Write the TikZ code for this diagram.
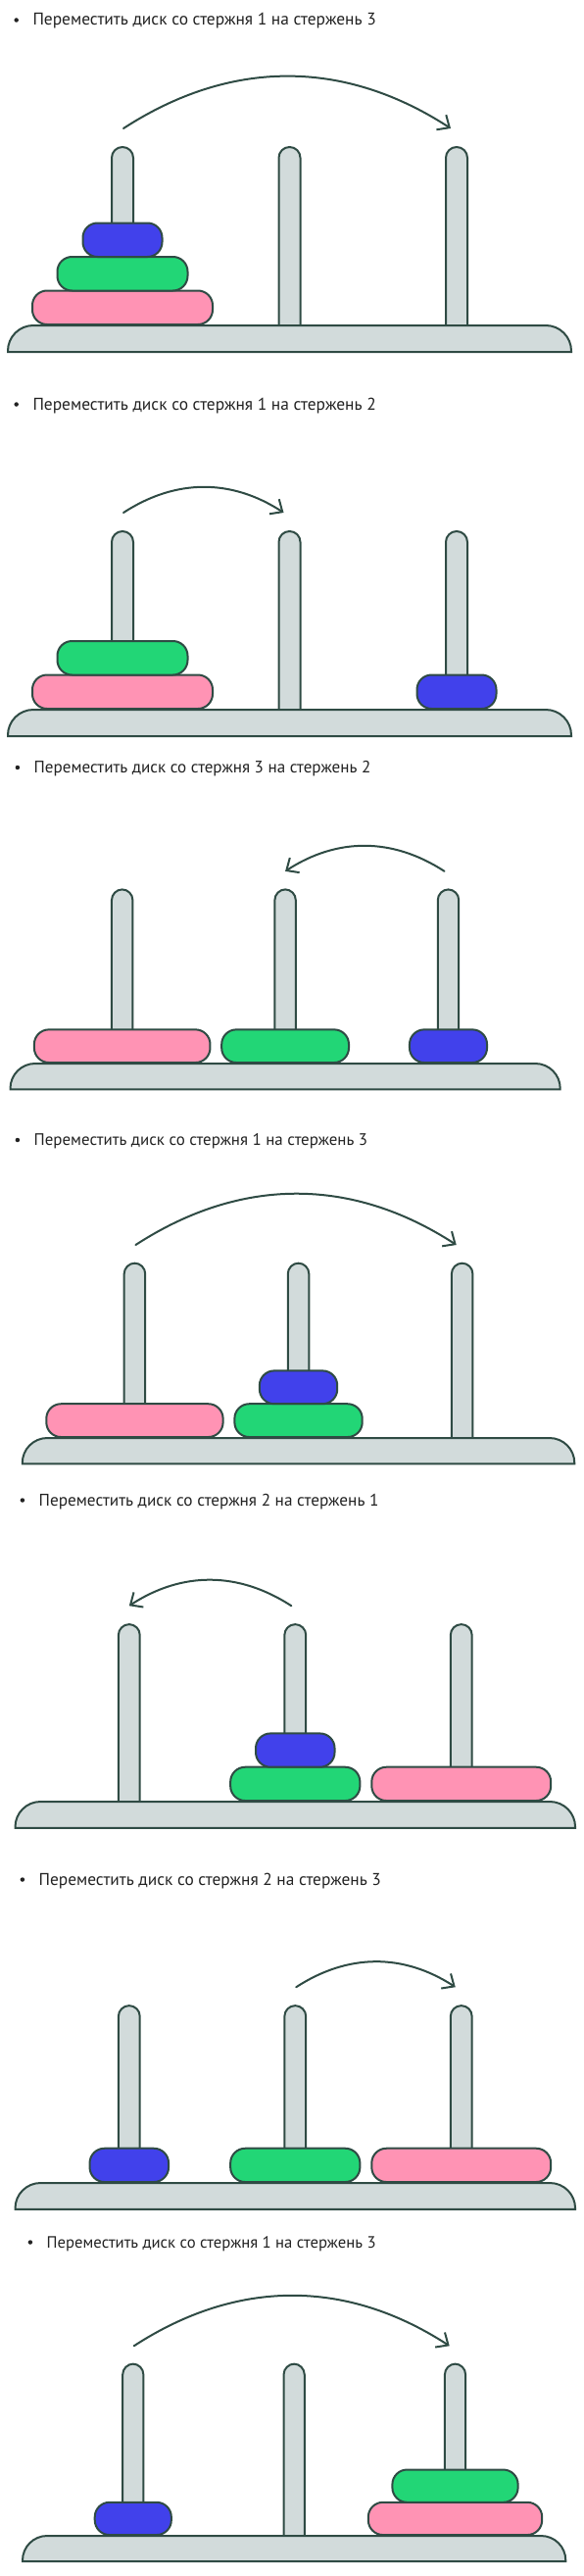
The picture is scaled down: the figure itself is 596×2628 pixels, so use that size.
\documentclass[tikz,border=0pt]{standalone}
\usepackage{fontspec}
\setmainfont{PT Sans}
\usetikzlibrary{arrows.meta, calc}

\definecolor{edge}{HTML}{2F4B44}
\definecolor{steel}{HTML}{D2DBDB}
\definecolor{diskblue}{HTML}{4141EB}
\definecolor{diskgreen}{HTML}{22D676}
\definecolor{diskpink}{HTML}{FF93B4}
\definecolor{ink}{HTML}{222222}

\begin{document}
\begin{tikzpicture}
    [
        x=1pt, y=-1pt,
        outline/.style = {draw=edge, line width=2pt},
        base/.style = {outline, fill=steel},
        rod/.style = {
                outline,
                fill=steel,
                rounded corners=11pt,
                minimum width=22pt,
                minimum height=195pt,
                inner sep=0pt,
                anchor=south
            },
        disk/.style = {
                outline,
                rounded corners=15pt,
                minimum height=34.5pt,
                inner sep=0pt,
                anchor=south
            },
        disk b/.style = {disk, fill=diskblue, minimum width=81pt},
        disk g/.style = {disk, fill=diskgreen, minimum width=133pt},
        disk p/.style = {disk, fill=diskpink, minimum width=184pt},
        move/.style = {outline, line cap=round, -{Straight Barb[length=10pt, width=18pt]}},
        caption/.style = {anchor=base west, inner sep=0pt, text=ink},
        bullet/.style = {circle, fill=ink, inner sep=0pt, minimum size=4.5pt},
    ]
    \useasboundingbox (0,0) rectangle (596,2628);

    \foreach \n/\px/\py/\ps/\src/\dst/\tx/\ty/\ts/\disks in {
            1/8/332/1/1/3/33.3/26/1/{p/1/0,g/1/1,b/1/2},
            2/8/724/1/1/2/33.3/418/1/{p/1/0,g/1/1,b/3/0},
            3/10.5/1085/0.976/3/2/34.5/788.5/0.981/{p/1/0,g/2/0,b/3/0},
            4/22.8/1467/0.98/1/3/34.5/1168.5/0.972/{p/1/0,g/2/0,b/2/1},
            5/15.5/1838/0.994/2/1/39.5/1536/0.99/{g/2/0,b/2/1,p/3/0},
            6/15.5/2227/0.994/2/3/39.5/1923/0.997/{b/1/0,g/2/0,p/3/0},
            7/23/2587/0.964/1/3/47.5/2293/0.959/{b/1/0,p/3/0,g/3/1}%
        }{
        \pgfmathsetmacro\fs{17.4*\ts}
        \node[caption, font=\fontsize{\fs}{20}\selectfont] (t\n) at (\tx,\ty)
            {Переместить диск со стержня \src{} на стержень \dst};
        \node[bullet] (u\n) at ($(t\n.base west)+(-16.6,-5.5)$) {};

        \begin{scope}[shift={(\px,\py)}, scale=\ps, transform shape]
            \foreach \rd in {1,2,3}
                \node[rod] (r\n\rd) at ({117+170.5*(\rd-1)},14) {};
            \draw[base] (0,27) -- (0,26) arc[start angle=180, end angle=270, radius=26]
                -- (549,0) arc[start angle=270, end angle=360, radius=26] -- (575,27) -- cycle;
            \foreach \dsize/\drod/\dlvl in \disks
                \node[disk \dsize] (d\n\dsize) at ({117+170.5*(\drod-1)},{-34.5*\dlvl}) {};
            \pgfmathsetmacro\dir{ifthenelse(\dst>\src,1,-1)}
            \pgfmathsetmacro\bnd{33*\dir}
            \coordinate (s\n) at ({117+170.5*(\src-1)-1.5+2.5*\dir},-201);
            \coordinate (e\n) at ({117+170.5*(\dst-1)-3-3*\dir},-201);
            \draw[move] (s\n) to[bend left=\bnd] (e\n);
        \end{scope}
    }
\end{tikzpicture}
\end{document}
